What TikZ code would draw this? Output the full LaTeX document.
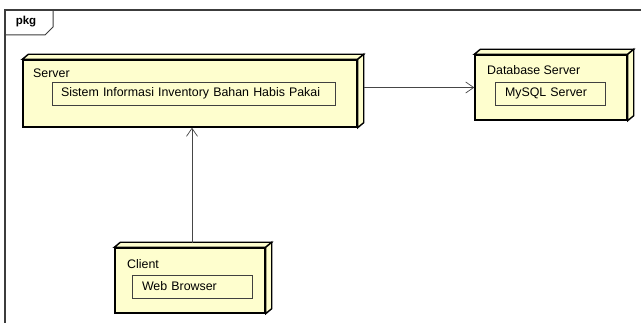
\documentclass[tikz,border=0pt]{standalone}
\usepackage{fontspec}
\setmainfont{Liberation Sans}
\usetikzlibrary{arrows.meta,positioning}
\definecolor{nodefill}{RGB}{254,254,206}
\definecolor{framegray}{RGB}{60,60,60}
\definecolor{linkgray}{RGB}{70,70,70}
\tikzset{
  every node/.style={font=\fontsize{12.4}{14}\selectfont},
  front/.style={draw=black, fill=nodefill, line width=1.4pt, inner sep=0pt},
  side/.style={draw=black, fill=nodefill, line width=1.4pt, line join=miter},
  part/.style={draw=black!75, fill=nodefill, line width=0.6pt, inner xsep=9pt,
    inner ysep=0pt, minimum height=23pt, text width=#1, align=left},
  nodename/.style={anchor=west, inner sep=0pt},
  link/.style={draw=linkgray, line width=0.7pt, -{Straight Barb[length=8pt,width=11pt]}}
}

\begin{document}
\begin{tikzpicture}[x=1pt,y=-1pt]
  \useasboundingbox (0,0) rectangle (641,323);

  % package frame
  \draw[framegray, line width=1.2pt] (5,323) -- (5,10) -- (641,10);
  \draw[framegray, line width=1pt] (5,35) -- (45,35) -- (53,27) -- (53,10);
  \node[font=\bfseries\fontsize{11.5}{13}\selectfont] (pkg) at (26,22) {pkg};

  % nodes
  \node[front, minimum width=334pt, minimum height=67pt] (server) at (190,93.5) {};
  \node[front, minimum width=152pt, minimum height=65pt] (db) at (551,87.5) {};
  \node[front, minimum width=150pt, minimum height=65pt] (client) at (190,280.5) {};
  \foreach \n in {server,db,client} {
    \draw[side] (\n.north west) -- ++(6,-5) -- ([shift={(6,-5)}]\n.north east)
      -- (\n.north east) -- cycle;
    \draw[side] (\n.north east) -- ([shift={(6,-5)}]\n.north east)
      -- ([shift={(6,-5)}]\n.south east) -- (\n.south east) -- cycle;
  }

  \node[nodename] (serverlbl) at (33,73) {Server};
  \node[nodename] (dblbl) at (487,70) {Database Server};
  \node[nodename] (clientlbl) at (127,264) {Client};

  \node[part=265pt] (sistem) at (193.5,93.5)
    {Sistem Informasi Inventory Bahan Habis Pakai};
  \node[part=90pt, inner xsep=10pt] (mysql) at (550,93.5) {MySQL Server};
  \node[part=100pt, inner xsep=10pt] (browser) at (192,286.5) {Web Browser};

  % connectors
  \draw[link] ([xshift=6pt]server.east |- db.west) -- (db.west);
  \draw[link] ([xshift=2pt,yshift=4pt]client.north) -- ([xshift=2pt]server.south);
\end{tikzpicture}
\end{document}
